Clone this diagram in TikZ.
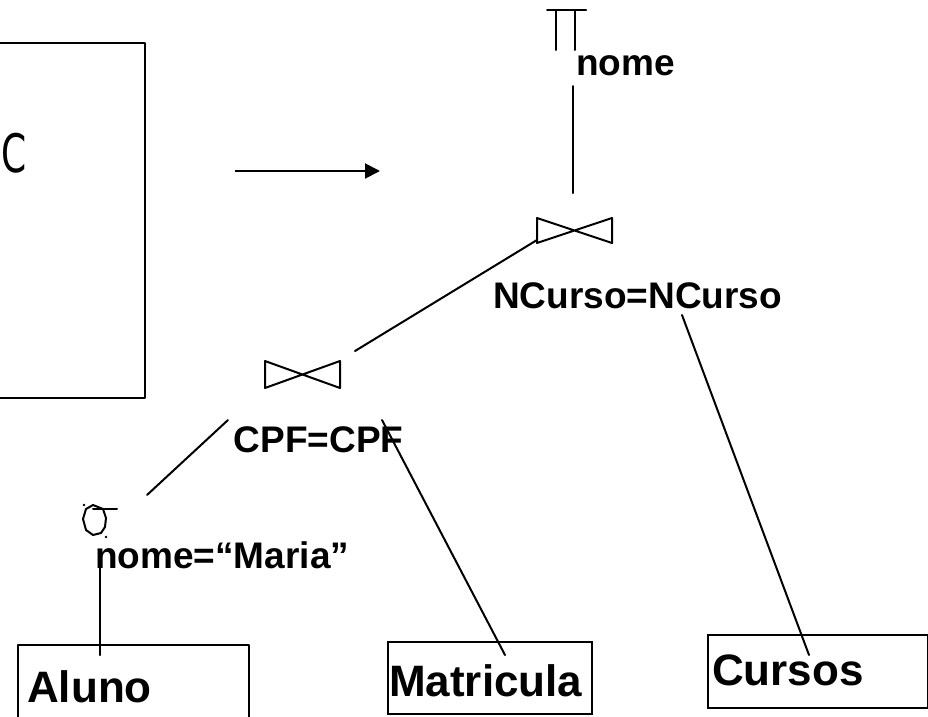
\documentclass[tikz,border=0pt]{standalone}
\usepackage{fontspec}
\setmainfont{Liberation Sans}
\newfontfamily\csans{DejaVu Sans}
\usetikzlibrary{arrows.meta}
\tikzset{
  ln/.style={line width=2pt, line cap=round, line join=round},
  lbl/.style={inner sep=0pt, anchor=base west, font=\bfseries\fontsize{37}{40}\selectfont},
  boxlbl/.style={inner sep=0pt, anchor=base west, font=\bfseries\fontsize{44}{48}\selectfont},
  relbox/.style={draw, line width=2pt, inner sep=0pt, anchor=north west},
}
\begin{document}
\begin{tikzpicture}[x=1pt,y=-1pt]
\useasboundingbox (0,0) rectangle (928,716);
\clip (0,0) rectangle (928,716);
% left box (partly out of frame)
\draw[ln, line cap=butt] (-5,43) -- (145,43) -- (145,398) -- (-5,398);
\node[inner sep=0pt, anchor=base west, xscale=0.68, font=\csans\fontsize{53}{56}\selectfont] (cq) at (1,172) {C};
% arrow
\coordinate (a1) at (235,171);
\coordinate (a2) at (380,171);
\draw[line width=2pt, -{Triangle[length=15pt,width=15pt]}] (a1) -- (a2);
% projection symbol
\draw[ln] (547,10) -- (586,10) (556,10) -- (556,50) (575,10) -- (575,50);
\node[lbl] (pilbl) at (576,75) {nome};
\coordinate (p1) at (573,86);
\coordinate (p2) at (573,193);
\draw[ln] (p1) -- (p2);
% upper join
\draw[ln] (537,218) -- (537,243) -- (612,218) -- (612,243) -- cycle;
\coordinate (j1L) at (537,240);
\node[lbl] (j1lbl) at (493,308) {NCurso=NCurso};
% lower join
\draw[ln] (265,361) -- (265,388) -- (340,361) -- (340,388) -- cycle;
\coordinate (j2R) at (355,351);
\node[lbl] (j2lbl) at (233.5,452) {CPF=CPF};
\draw[ln] (j2R) -- (j1L);
% selection
\draw[ln] (93,505) -- (103,509) -- (106,518) -- (105,527) -- (101,533) -- (93,535) -- (86,530) -- (83,519) -- (86,509) -- cycle;
\draw[ln] (93,509) -- (117,509);
\fill (84,505) circle (1.3pt) (106,537) circle (1.3pt);
\node[lbl] (sellbl) at (95,568) {nome=“Maria”};
\coordinate (j2D) at (228,420);
\coordinate (s1) at (147,495);
\draw[ln] (j2D) -- (s1);
% relations
\draw[ln, line cap=butt] (18,720) -- (18,645) -- (249,645) -- (249,720);
\node[boxlbl] (aluno) at (27,702) {Aluno};
\node[relbox, minimum width=204pt, minimum height=72pt] (matbox) at (387,641) {};
\node[boxlbl] (mat) at (389,696) {Matricula};
\node[relbox, minimum width=220pt, minimum height=73pt] (curbox) at (707,634) {};
\node[boxlbl] (cur) at (712,685) {Cursos};
% connectors to relations
\coordinate (s2) at (100,568);
\coordinate (al) at (100,655);
\draw[ln] (s2) -- (al);
\coordinate (m1) at (382,420);
\coordinate (m2) at (505,655);
\draw[ln] (m1) -- (m2);
\coordinate (c1) at (682,315);
\coordinate (c2) at (809,655);
\draw[ln] (c1) -- (c2);
\end{tikzpicture}
\end{document}
